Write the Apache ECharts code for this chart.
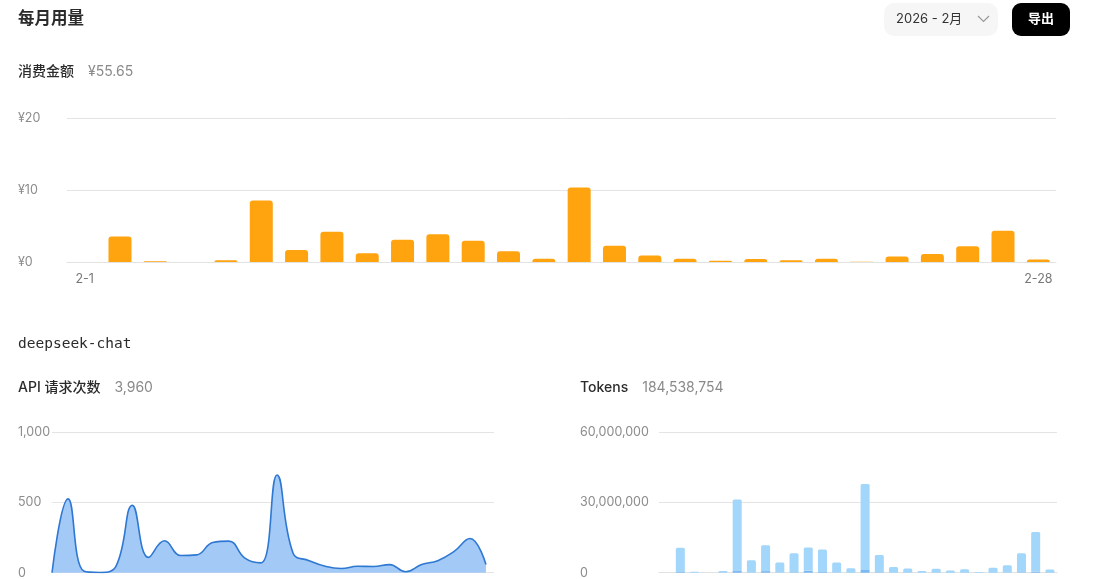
<!DOCTYPE html>
<html><head><meta charset="utf-8">
<script src="https://cdn.jsdelivr.net/npm/echarts@6/dist/echarts.min.js"></script>
<style>html,body{margin:0;padding:0;background:#fff;}#c{width:1093px;height:579px;}</style>
</head><body><div id="c"></div>
<script>
var days = [];
for (var i = 1; i <= 28; i++) days.push('2-' + i);
var costValues = [0, 3.55, 0.12, 0, 0.25, 8.55, 1.65, 4.2, 1.2, 3.1, 3.85, 2.95, 1.48, 0.45, 10.35, 2.25, 0.92, 0.45, 0.18, 0.4, 0.25, 0.45, 0.05, 0.78, 1.1, 2.2, 4.35, 0.35];
var requestValues = [0, 525, 10, 2, 50, 479, 109, 227, 123, 127, 215, 225, 104, 70, 694, 139, 86, 46, 30, 46, 44, 58, 7, 58, 86, 150, 243, 58];
var tokenValues = [0, 10.7, 0.4, 0, 0.7, 31.25, 5.3, 11.7, 4.4, 8.3, 10.8, 9.9, 4.4, 1.9, 37.8, 7.6, 2.5, 1.8, 0.7, 1.7, 1.0, 1.5, 0.3, 2.1, 3.2, 8.3, 17.4, 1.4];
var tokenDarkValues = [0, 0.3, 0, 0, 0.1, 1.0, 0.1, 0.7, 0.1, 0.2, 0.8, 0.3, 0.1, 0, 1.2, 0.2, 0.05, 0.05, 0, 0.05, 0, 0.05, 0, 0.05, 0.1, 0.2, 0.4, 0.05];
var costTicks = ['¥0', '¥10', '¥20'];
var totals = {cost: '¥55.65', requests: '3,960', tokens: '184,538,754'};

var FONT = 'Inter, "Noto Sans CJK SC", sans-serif';
var tokenLight = tokenValues.map(function (v, i) { return +(v - tokenDarkValues[i]).toFixed(3) * 1e6; });
var tokenDark = tokenDarkValues.map(function (v) { return v * 1e6; });
var reqPoints = requestValues.map(function (v, i) { return [i + 1, v]; });

var chart = echarts.init(document.getElementById('c'));
function titleOf(left, top, a, b, size, weight, family) {
  return {
    left: left, top: top, padding: 0,
    text: b ? '{a|' + a + '}{s|}{b|' + b + '}' : '{a|' + a + '}',
    textStyle: {
      fontWeight: 'normal',
      rich: {
        a: {fontSize: size, fontWeight: weight, color: '#2b2b2b', fontFamily: family || FONT, lineHeight: size + 4},
        s: {width: 14},
        b: {fontSize: size, fontWeight: 'normal', color: '#8a8a8a', fontFamily: FONT, lineHeight: size + 4}
      }
    }
  };
}
var axisLabelStyle = {color: '#8c8c8c', fontSize: 12.5, fontFamily: FONT};
chart.setOption({
  animation: false,
  title: [
    titleOf(18, 9, '每月用量', null, 16.5, 'bold'),
    titleOf(18, 63, '消费金额', totals.cost, 14, 500),
    titleOf(18, 335, 'deepseek-chat', null, 14.5, 'normal', '"DejaVu Sans Mono", monospace'),
    titleOf(18, 379, 'API 请求次数', totals.requests, 14, 500),
    titleOf(580, 379, 'Tokens', totals.tokens, 14, 500)
  ],
  graphic: [
    {type: 'rect', shape: {x: 884, y: 3, width: 114, height: 33, r: 10}, style: {fill: '#f6f6f6'}},
    {type: 'text', x: 896, y: 19.5, style: {text: '2026 - 2月', fill: '#333', font: '13px ' + FONT, verticalAlign: 'middle', textVerticalAlign: 'middle'}},
    {type: 'polyline', shape: {points: [[978, 16], [983.5, 21.5], [989, 16]]}, style: {stroke: '#9a9a9a', lineWidth: 1.2, fill: null}},
    {type: 'rect', shape: {x: 1012, y: 3, width: 58, height: 33, r: 9}, style: {fill: '#000'}},
    {type: 'text', x: 1041, y: 19.5, style: {text: '导出', fill: '#fff', font: 'bold 13px ' + FONT, align: 'center', textAlign: 'center', verticalAlign: 'middle', textVerticalAlign: 'middle'}}
  ],
  grid: [
    {left: 67, right: 37, top: 118, height: 144},
    {left: 52, right: 599, top: 432, height: 142},
    {left: 659, right: 36, top: 432, height: 142}
  ],
  xAxis: [
    {gridIndex: 0, type: 'category', data: days,
      axisLine: {lineStyle: {color: '#e2e2e2'}}, axisTick: {show: false},
      axisLabel: {color: '#777', fontSize: 12.5, fontFamily: FONT, margin: 11,
        interval: function (i) { return i === 0 || i === days.length - 1; }}},
    {gridIndex: 1, type: 'value', min: 1, max: 28.5, show: false},
    {gridIndex: 2, type: 'category', data: days, axisLine: {lineStyle: {color: '#e2e2e2'}}, axisTick: {show: false}, axisLabel: {show: false}}
  ],
  yAxis: [
    {gridIndex: 0, type: 'value', min: 0, max: 20, interval: 10, axisLine: {show: false}, axisTick: {show: false},
      axisLabel: Object.assign({align: 'left', margin: 49, formatter: function (v) { return costTicks[v / 10]; }}, axisLabelStyle),
      splitLine: {lineStyle: {color: '#e4e4e4'}}},
    {gridIndex: 1, type: 'value', min: 0, max: 1000, interval: 500, axisLine: {show: false}, axisTick: {show: false},
      axisLabel: Object.assign({align: 'left', margin: 34, formatter: function (v) { return v.toLocaleString('en-US'); }}, axisLabelStyle),
      splitLine: {lineStyle: {color: '#e4e4e4'}}},
    {gridIndex: 2, type: 'value', min: 0, max: 60000000, interval: 30000000, axisLine: {show: false}, axisTick: {show: false},
      axisLabel: Object.assign({align: 'left', margin: 79, formatter: function (v) { return v.toLocaleString('en-US'); }}, axisLabelStyle),
      splitLine: {lineStyle: {color: '#e4e4e4'}}}
  ],
  series: [
    {type: 'bar', xAxisIndex: 0, yAxisIndex: 0, data: costValues, barWidth: 23,
      itemStyle: {color: '#ffa30f', borderRadius: [3, 3, 0, 0]}},
    {type: 'line', xAxisIndex: 1, yAxisIndex: 1, data: reqPoints, smooth: 0.45, showSymbol: false,
      lineStyle: {color: '#2f78d2', width: 1.6}, areaStyle: {color: '#a3c9f6', opacity: 1}},
    {type: 'bar', xAxisIndex: 2, yAxisIndex: 2, stack: 't', data: tokenDark, barWidth: 9,
      itemStyle: {color: '#7db9f2'}},
    {type: 'bar', xAxisIndex: 2, yAxisIndex: 2, stack: 't', data: tokenLight, barWidth: 9,
      itemStyle: {color: '#a2d6fa', borderRadius: [1.5, 1.5, 0, 0]}}
  ]
});
</script></body></html>
